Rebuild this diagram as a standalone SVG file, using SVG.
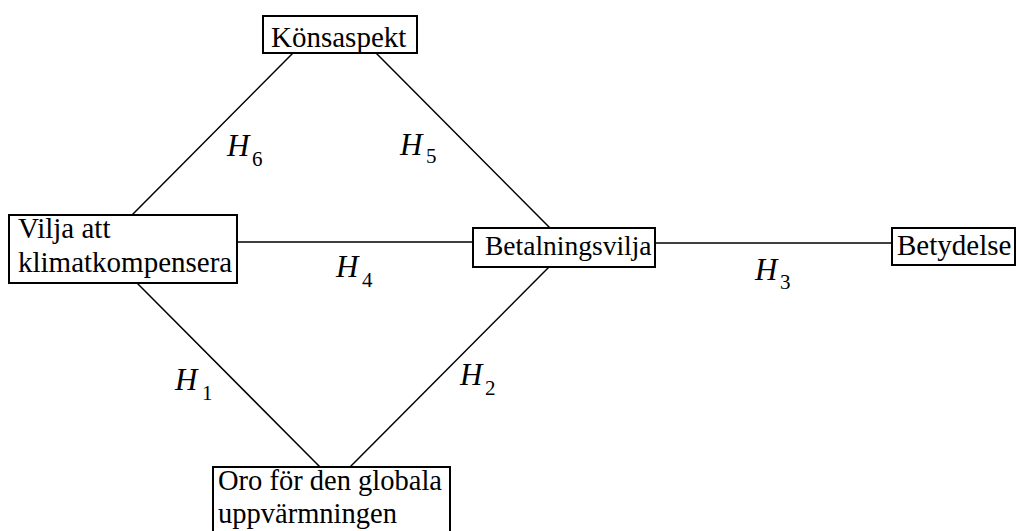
<svg xmlns="http://www.w3.org/2000/svg" width="1017" height="531" viewBox="0 0 1017 531">
<style>
.box{fill:#fff;stroke:#000;stroke-width:2}
.t{font-family:"Liberation Serif","DejaVu Serif",serif;font-size:29px;fill:#000}
.h{font-family:"Liberation Serif","DejaVu Serif",serif;font-size:31px;font-style:italic;fill:#000}
.s{font-family:"Liberation Serif","DejaVu Serif",serif;font-size:21px;fill:#000}
.c line{stroke:#000;stroke-width:1.5}
</style>
<rect width="1017" height="531" fill="#fff"/>
<g class="c" id="connectors">
<line x1="293" y1="53" x2="132" y2="215"/>
<line x1="376" y1="53" x2="550" y2="228"/>
<line x1="237" y1="242" x2="473" y2="242"/>
<line x1="655" y1="243" x2="892" y2="243"/>
<line x1="137" y1="283" x2="320" y2="467"/>
<line x1="549" y1="267" x2="350" y2="467"/>
</g>
<g id="konsaspekt"><rect class="box" x="263" y="16" width="154" height="37"/><text class="t" x="271" y="47">Könsaspekt</text></g>
<g id="vilja"><rect class="box" x="9" y="215" width="228" height="68"/><text class="t" x="18" y="238">Vilja att</text><text class="t" x="18" y="272">klimatkompensera</text></g>
<g id="betalningsvilja"><rect class="box" x="473" y="228" width="182" height="39"/><text class="t" x="485" y="255" style="font-size:27.5px">Betalningsvilja</text></g>
<g id="betydelse"><rect class="box" x="892" y="228" width="123" height="37"/><text class="t" x="897" y="255">Betydelse</text></g>
<g id="oro"><rect class="box" x="213" y="467" width="237" height="70"/><text class="t" x="218" y="490" style="font-size:28.5px">Oro för den globala</text><text class="t" x="218" y="523" style="font-size:28.5px">uppvärmningen</text></g>
<g id="labels">
<text class="h" x="227" y="156">H</text><text class="s" x="252" y="166">6</text>
<text class="h" x="400" y="155">H</text><text class="s" x="426" y="163">5</text>
<text class="h" x="336" y="277">H</text><text class="s" x="362" y="287">4</text>
<text class="h" x="755" y="280">H</text><text class="s" x="780" y="289">3</text>
<text class="h" x="460" y="385">H</text><text class="s" x="485" y="395">2</text>
<text class="h" x="175" y="390">H</text><text class="s" x="202" y="400">1</text>
</g>
</svg>
